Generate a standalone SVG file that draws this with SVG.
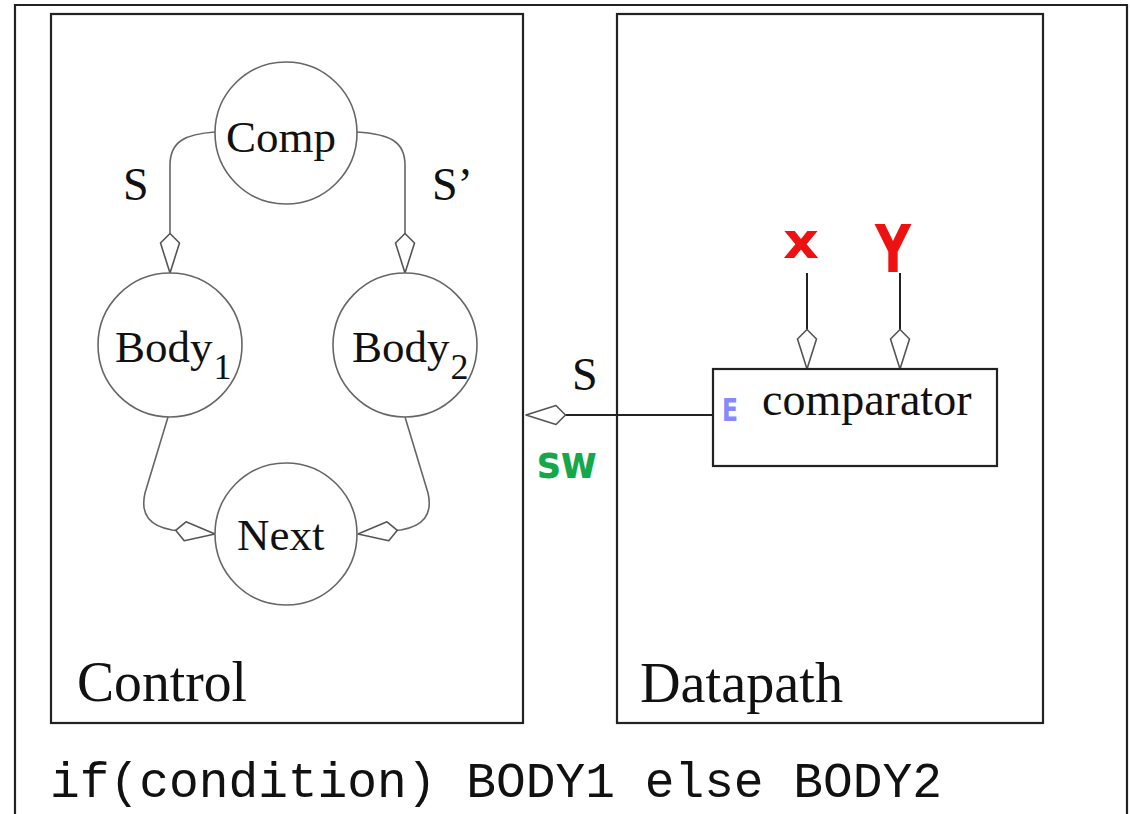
<svg xmlns="http://www.w3.org/2000/svg" width="1130" height="814" viewBox="0 0 1130 814">
  <style>
    .frame { fill: none; stroke: #222; stroke-width: 2.2; }
    .state { fill: #fff; stroke: #666; stroke-width: 1.6; }
    .box { fill: #fff; stroke: #222; stroke-width: 2.2; }
    .wire { fill: none; stroke: #666; stroke-width: 1.6; marker-end: url(#kite); }
    .dwire { fill: none; stroke: #222; stroke-width: 2; marker-end: url(#kite); }
    .serif { font-family: "Liberation Serif", "Times New Roman", serif; fill: #111; }
    .mono { font-family: "Liberation Mono", "Courier New", monospace; fill: #111; }
    .hand { font-family: "DejaVu Sans", "Liberation Sans", sans-serif; font-weight: bold; }
  </style>
  <defs>
    <!-- open kite-shaped arrowhead, tip at the path end -->
    <marker id="kite" markerUnits="userSpaceOnUse" markerWidth="44" markerHeight="24" refX="41" refY="12" orient="auto">
      <path d="M41,12 L11,2.5 L1.5,12 L11,21.5 Z" fill="#fff" stroke="#555" stroke-width="1.6" stroke-linejoin="round"/>
    </marker>
  </defs>

  <rect width="1130" height="814" fill="#fff"/>

  <!-- outer frame, open at the bottom -->
  <path class="frame" d="M15,814 L15,5 L1127,5 L1127,814"/>

  <g id="control">
    <rect class="box" x="51" y="14" width="472" height="709"/>
    <text class="serif" x="77" y="701" font-size="58" textLength="170" lengthAdjust="spacingAndGlyphs">Control</text>
  </g>

  <g id="datapath">
    <rect class="box" x="617" y="14" width="426" height="709"/>
    <text class="serif" x="640" y="702" font-size="58" textLength="203" lengthAdjust="spacingAndGlyphs">Datapath</text>
  </g>

  <g id="connectors">
    <path class="wire" d="M215,132 C186,134 170,141 170,165 L170,273"/>
    <path class="wire" d="M357,132 C389,134 405,141 405,165 L405,273"/>
    <path class="wire" d="M168,417 L145,493 C140,515 150,526 172,530 L215,534"/>
    <path class="wire" d="M405,417 L428,493 C433,515 423,526 401,530 L358,534"/>
    <path class="dwire" d="M807,273 L807,369"/>
    <path class="dwire" d="M900,273 L900,369"/>
    <path class="dwire" d="M713,415 L526,415"/>
  </g>

  <g id="comp">
    <circle class="state" cx="286" cy="133" r="71"/>
    <text class="serif" x="226" y="152" font-size="45">Comp</text>
  </g>

  <g id="body1">
    <circle class="state" cx="170" cy="345" r="72"/>
    <text class="serif" x="115" y="362" font-size="45">Body<tspan dx="1" dy="17" font-size="36">1</tspan></text>
  </g>

  <g id="body2">
    <circle class="state" cx="405" cy="345" r="72"/>
    <text class="serif" x="352" y="362" font-size="45">Body<tspan dx="1" dy="17" font-size="36">2</tspan></text>
  </g>

  <g id="next">
    <circle class="state" cx="286" cy="534" r="71"/>
    <text class="serif" x="237" y="550" font-size="45">Next</text>
  </g>

  <g id="comparator">
    <rect class="box" x="713" y="369" width="284" height="97"/>
    <text class="serif" x="762" y="415" font-size="46">comparator</text>
  </g>

  <g id="labels">
    <text class="serif" x="123" y="200" font-size="46">S</text>
    <text class="serif" x="432" y="200" font-size="46">S’</text>
    <text class="serif" x="572" y="390" font-size="46">S</text>
    <text class="mono" x="50" y="797" font-size="49.5" textLength="892" lengthAdjust="spacingAndGlyphs">if(condition) BODY1 else BODY2</text>
  </g>

  <g id="notes">
    <text class="hand" x="783" y="258" font-size="50" fill="#ee1111" textLength="36" lengthAdjust="spacingAndGlyphs">x</text>
    <text class="hand" x="875" y="272" font-size="66" fill="#ee1111" textLength="36" lengthAdjust="spacingAndGlyphs">Y</text>
    <text class="hand" x="722" y="421" font-size="32" fill="#8888ff" textLength="16" lengthAdjust="spacingAndGlyphs">E</text>
    <text class="hand" x="537" y="478" font-size="46" fill="#14a84a" textLength="60" lengthAdjust="spacingAndGlyphs">sw</text>
  </g>
</svg>
